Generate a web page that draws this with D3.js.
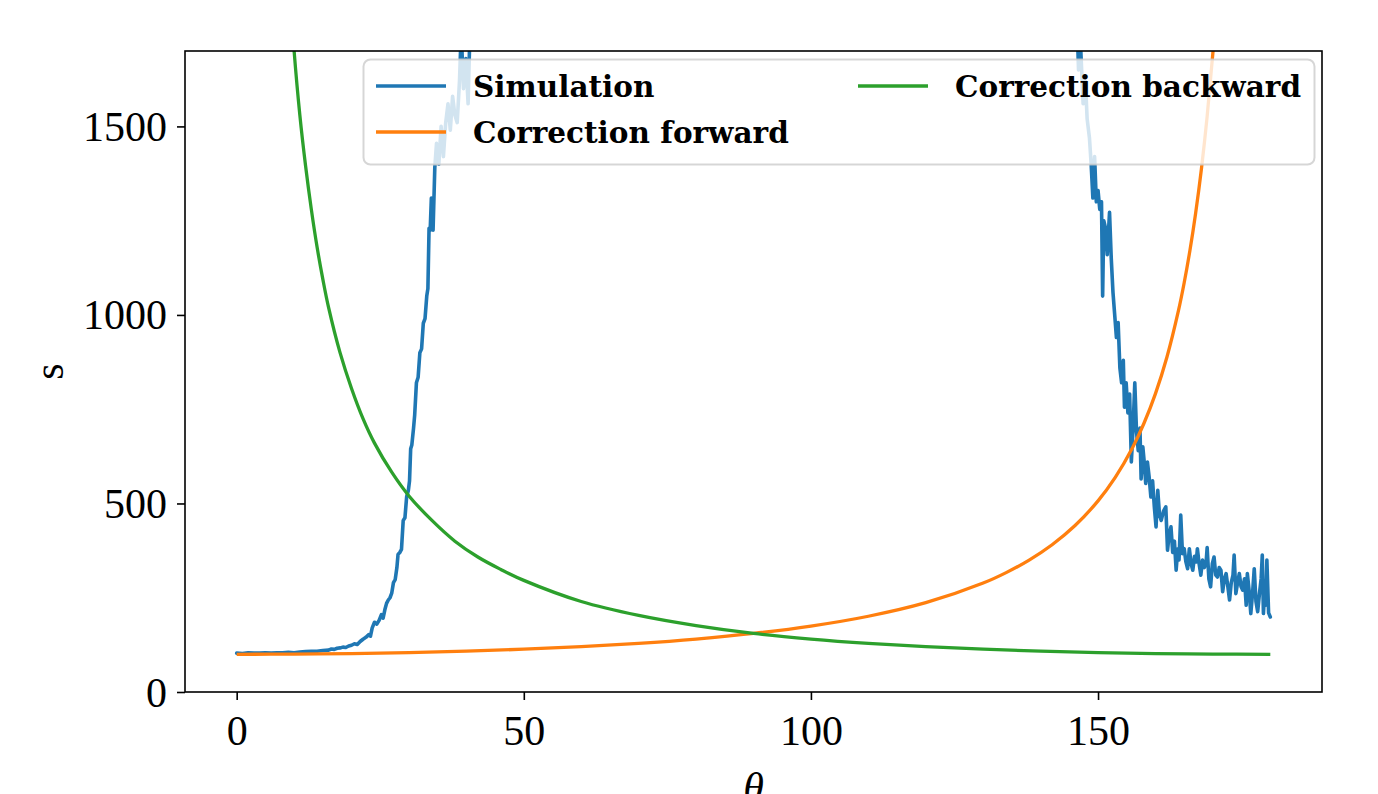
<!DOCTYPE html>
<html>
<head>
<meta charset="utf-8">
<script src="https://cdn.jsdelivr.net/npm/d3@7"></script>
<style>
  html, body { margin: 0; padding: 0; background: #ffffff; }
  svg { display: block; }
</style>
</head>
<body>
<svg id="chart" width="1378" height="794"></svg>
<script>
// ---- data ----
const simTheta = [0,1,2,3,4,5,6,7,8,9,10,11,12,13,14,15,16,16.5,17,17.5,18,18.5,19,19.5,20,20.5,21,21.5,22,22.5,23,23.3,23.6,24,24.4,24.8,25.2,25.5,25.8,26.1,26.4,26.7,27,27.3,27.6,27.9,28.1,28.4,28.7,29,29.3,29.6,29.9,30.1,30.3,30.5,30.8,31,31.3,31.6,31.9,32.2,32.5,32.8,33.1,33.3,33.5,33.7,33.9,34.1,34.2,34.5,34.8,35.2,35.6,36,36.4,36.8,37.2,37.6,38,38.4,38.8,39.1,39.5,39.9,40.3,40.7,41.2,43,50,70,90,110,130,143,145.5,146,146.3,146.6,147,147.4,147.8,148.1,148.5,148.8,149.1,149.4,149.7,150,150.3,150.6,150.8,151,151.3,151.6,152,152.3,152.6,152.9,153.2,153.5,153.8,154.1,154.4,154.6,154.9,155.2,155.5,155.8,156.1,156.4,156.7,157,157.3,157.5,157.8,158.1,158.3,158.6,158.9,159.2,159.5,159.8,160.1,160.4,160.7,161,161.4,161.8,162.1,162.4,162.7,163,163.3,163.6,163.9,164.1,164.4,164.7,165,165.3,165.6,165.9,166.2,166.5,166.8,167.1,167.3,167.6,167.9,168.2,168.5,168.8,169,169.3,169.6,169.9,170.2,170.5,170.8,171.1,171.4,171.7,172,172.3,172.6,172.9,173.2,173.5,173.7,174,174.3,174.6,174.9,175.2,175.5,175.8,176,176.3,176.6,176.9,177.2,177.5,177.8,178.1,178.4,178.6,178.8,179,179.2,179.4,179.7,180];
const simValues = [103,102,104,103,103,104,103,104,104,105,104,106,107,108,108,110,111,114,113,116,117,119,118,122,124,128,126,134,140,145,152,148,170,185,180,190,205,196,218,235,244,250,262,290,298,330,365,370,378,455,462,518,535,560,645,655,700,735,820,835,900,910,978,990,1050,1070,1230,1225,1310,1290,1225,1390,1455,1400,1500,1420,1510,1560,1490,1580,1530,1510,1620,1750,1600,1680,1560,1800,1900,2100,3000,4500,5000,4500,3000,2100,1900,1720,1800,1650,1700,1560,1620,1520,1470,1400,1310,1420,1300,1330,1280,1300,1050,1250,1230,1160,1272,1150,1060,1000,940,980,860,820,880,755,820,740,790,610,700,820,690,640,700,565,650,600,553,610,570,517,560,491,438,535,470,455,480,491,376,420,438,370,400,323,380,350,469,367,380,345,327,380,340,323,360,345,380,340,310,350,330,340,383,300,279,340,358,310,305,330,323,266,300,314,280,244,290,310,363,261,290,314,280,270,300,230,314,270,208,260,327,240,213,260,300,363,208,260,230,350,210,199];

const fwdTheta = [0,10,20,30,40,50,60,70,80,90,100,110,120,130,134,138,142,146,150,153,156,158,160,162,164,165,166,167,168,169,170,171,172];
const fwdValues = [100,100.5,102,104.6,108.3,113.5,120.3,129.1,140.5,155.3,174.8,200.9,236.9,288.9,316.6,349.9,390.6,441.5,506.8,569.1,647.7,712.7,791.4,888.6,1011.3,1085.4,1171,1270.5,1387,1526.6,1695.4,1904,2168];

const bwdTheta = [8,9,10,11,12,13,14,15,16,18,20,22,24,27,30,34,38,42,46,50,60,70,80,90,100,110,120,130,140,150,160,170,180];
const bwdValues = [2200,1920,1700,1530,1395,1280,1180,1095,1020,900,805,725,660,583,520,455,400,358,325,296,240,203,176,155.3,140.5,129.1,120.3,113.5,108.3,104.6,102,100.5,100];

const xTicks = [0, 50, 100, 150];
const yTicks = [0, 500, 1000, 1500];
const seriesNames = ["Simulation", "Correction forward", "Correction backward"];
const seriesColors = ["#1f77b4", "#ff7f0e", "#2ca02c"];

// ---- layout ----
const L = 185, R = 1322, T = 51, B = 692;
const svg = d3.select("#chart");
const x = d3.scaleLinear().domain([-9, 189]).range([L, R]);
const y = d3.scaleLinear().domain([0, 1700]).range([B, T]);

svg.append("defs").append("clipPath").attr("id", "plotclip")
  .append("rect").attr("x", L).attr("y", T).attr("width", R - L).attr("height", B - T);

const g = svg.append("g").attr("clip-path", "url(#plotclip)");
const line = d3.line().x(d => x(d[0])).y(d => y(d[1]));
const smooth = d3.line().x(d => x(d[0])).y(d => y(d[1])).curve(d3.curveCatmullRom.alpha(0.5));

const simData = simTheta.map((t, i) => [t, simValues[i]]);
const fwdData = fwdTheta.map((t, i) => [t, fwdValues[i]]);
const bwdData = bwdTheta.map((t, i) => [t, bwdValues[i]]);

g.append("path").datum(simData).attr("d", line)
  .attr("fill", "none").attr("stroke", seriesColors[0]).attr("stroke-width", 3.6)
  .attr("stroke-linejoin", "round").attr("stroke-linecap", "round");
g.append("path").datum(fwdData).attr("d", smooth)
  .attr("fill", "none").attr("stroke", seriesColors[1]).attr("stroke-width", 3.3);
g.append("path").datum(bwdData).attr("d", smooth)
  .attr("fill", "none").attr("stroke", seriesColors[2]).attr("stroke-width", 3.3);

// ---- axes ----
const tickFont = "'Liberation Serif', 'Times New Roman', serif";
const xAxis = d3.axisBottom(x).tickValues(xTicks).tickSize(8).tickPadding(12).tickFormat(d3.format("d"));
const yAxis = d3.axisLeft(y).tickValues(yTicks).tickSize(8).tickPadding(10).tickFormat(d3.format("d"));

const gx = svg.append("g").attr("transform", `translate(0,${B})`).call(xAxis);
gx.select(".domain").remove();
gx.selectAll("line").attr("stroke", "#000").attr("stroke-width", 1.6);
gx.selectAll("text").attr("font-family", tickFont).attr("font-size", 42).attr("fill", "#000")
  .attr("dy", null).attr("y", 53);

const gy = svg.append("g").attr("transform", `translate(${L},0)`).call(yAxis);
gy.select(".domain").remove();
gy.selectAll("line").attr("stroke", "#000").attr("stroke-width", 1.6);
gy.selectAll("text").attr("font-family", tickFont).attr("font-size", 42).attr("fill", "#000")
  .attr("dy", null).attr("y", 14);

// frame
svg.append("rect").attr("x", L).attr("y", T).attr("width", R - L).attr("height", B - T)
  .attr("fill", "none").attr("stroke", "#000").attr("stroke-width", 1.6);

// axis labels
svg.append("text").attr("transform", `translate(63,${(T + B) / 2}) rotate(-90)`)
  .attr("text-anchor", "middle").attr("font-family", tickFont).attr("font-size", 42).text("s");
svg.append("text").attr("x", (L + R) / 2).attr("y", 802)
  .attr("text-anchor", "middle").attr("font-family", tickFont).attr("font-style", "italic")
  .attr("font-size", 42).text("θ");

// ---- legend ----
const leg = svg.append("g");
leg.append("rect").attr("x", 363.5).attr("y", 59.5).attr("width", 951).attr("height", 105)
  .attr("rx", 7).attr("ry", 7)
  .attr("fill", "#ffffff").attr("fill-opacity", 0.8)
  .attr("stroke", "#cccccc").attr("stroke-opacity", 0.8).attr("stroke-width", 2);
const legItems = [
  {name: seriesNames[0], color: seriesColors[0], hx: 376, ty: 86},
  {name: seriesNames[1], color: seriesColors[1], hx: 376, ty: 132},
  {name: seriesNames[2], color: seriesColors[2], hx: 858, ty: 86}
];
legItems.forEach(it => {
  leg.append("line").attr("x1", it.hx).attr("x2", it.hx + 70).attr("y1", it.ty).attr("y2", it.ty)
    .attr("stroke", it.color).attr("stroke-width", 3.3);
  leg.append("text").attr("x", it.hx + 97).attr("y", it.ty + 11)
    .attr("font-family", "'DejaVu Serif', serif").attr("font-weight", "bold")
    .attr("font-size", 29.5).attr("fill", "#000").text(it.name);
});
</script>
</body>
</html>
